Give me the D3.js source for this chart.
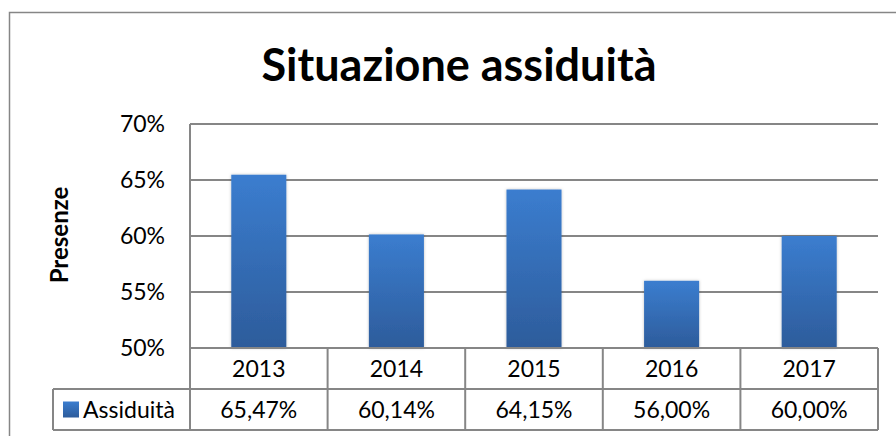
<!DOCTYPE html>
<html>
<head>
<meta charset="utf-8">
<script src="https://cdn.jsdelivr.net/npm/d3@7"></script>
<style>
  body { margin: 0; background: #fff; }
  svg { display: block; font-family: Lato, "Open Sans", sans-serif; }
</style>
</head>
<body>
<svg id="chart"></svg>
<script>
let years = ['2013', '2014', '2015', '2016', '2017']
let values = [0.6547, 0.6014, 0.6415, 0.56, 0.60]
let valueLabels = ['65,47%', '60,14%', '64,15%', '56,00%', '60,00%']
let yTicks = [0.5, 0.55, 0.6, 0.65, 0.7]
let yTickLabels = ['50%', '55%', '60%', '65%', '70%']
let seriesName = 'Assiduità'
let title = 'Situazione assiduità'
let axisTitle = 'Presenze'

const gridColor = '#868686'
const width = 896, height = 436

let svg = d3.select('#chart')
    .attr('width', width)
    .attr('height', height)

// plot area
let plotLeft = 190, plotRight = 878, plotTop = 124, plotBottom = 348
let rowH = 41

let scaleX = d3.scaleBand().domain(years).range([plotLeft, plotRight])
let scaleY = d3.scaleLinear().domain([0.5, 0.7]).range([plotBottom, plotTop])

let defs = svg.append('defs')
let grad = defs.append('linearGradient')
    .attr('id', 'barFill')
    .attr('x1', 0).attr('y1', 0).attr('x2', 0).attr('y2', 1)
grad.append('stop').attr('offset', '0%').attr('stop-color', '#3b7dcf')
grad.append('stop').attr('offset', '100%').attr('stop-color', '#2d5c9b')

let shadow = defs.append('filter').attr('id', 'shadow')
    .attr('x', '-20%').attr('y', '-5%').attr('width', '140%').attr('height', '110%')
shadow.append('feDropShadow')
    .attr('dx', 0).attr('dy', 0).attr('stdDeviation', 1.5)
    .attr('flood-color', '#000').attr('flood-opacity', 0.25)

// outer chart border (runs past the window on right and bottom)
svg.append('rect')
    .attr('x', 9.5).attr('y', 12.5)
    .attr('width', 1000).attr('height', 1000)
    .attr('fill', 'none')
    .attr('stroke', gridColor)
    .attr('stroke-width', 1.5)

// title
svg.append('text')
    .attr('x', 459).attr('y', 81)
    .attr('text-anchor', 'middle')
    .attr('font-size', 45)
    .attr('font-weight', 'bold')
    .attr('fill', '#000')
    .text(title)

// axis title
svg.append('text')
    .attr('transform', 'translate(68,235) rotate(-90)')
    .attr('text-anchor', 'middle')
    .attr('font-size', 24)
    .attr('font-weight', 'bold')
    .text(axisTitle)

// gridlines
svg.append('g').selectAll('line')
    .data(yTicks.slice(1))
    .join('line')
    .attr('x1', plotLeft).attr('x2', plotRight)
    .attr('y1', d => scaleY(d)).attr('y2', d => scaleY(d))
    .attr('stroke', gridColor)
    .attr('stroke-width', 2)

// y tick labels
svg.append('g').selectAll('text')
    .data(yTicks)
    .join('text')
    .attr('x', 165)
    .attr('y', d => scaleY(d))
    .attr('dy', '0.35em')
    .attr('text-anchor', 'end')
    .attr('font-size', 23)
    .attr('fill', '#000')
    .text((d, i) => yTickLabels[i])

// bars
let barW = scaleX.bandwidth() * 0.4
svg.append('g').selectAll('rect')
    .data(values)
    .join('rect')
    .attr('x', (d, i) => scaleX(years[i]) + (scaleX.bandwidth() - barW) / 2)
    .attr('y', d => scaleY(d))
    .attr('width', barW)
    .attr('height', d => plotBottom - scaleY(d))
    .attr('fill', 'url(#barFill)')
    .attr('filter', 'url(#shadow)')

// left axis line
svg.append('line')
    .attr('x1', plotLeft).attr('x2', plotLeft)
    .attr('y1', plotTop).attr('y2', plotBottom)
    .attr('stroke', gridColor).attr('stroke-width', 2)

// data table
let table = svg.append('g').attr('stroke', gridColor).attr('stroke-width', 2)
table.append('line').attr('x1', plotLeft).attr('x2', plotRight).attr('y1', plotBottom).attr('y2', plotBottom)
table.append('line').attr('x1', 53).attr('x2', plotRight).attr('y1', plotBottom + rowH).attr('y2', plotBottom + rowH)
table.append('line').attr('x1', 53).attr('x2', plotRight).attr('y1', plotBottom + 2 * rowH).attr('y2', plotBottom + 2 * rowH)
table.append('line').attr('x1', 53).attr('x2', 53).attr('y1', plotBottom + rowH).attr('y2', plotBottom + 2 * rowH)
table.selectAll('line.col')
    .data(years.map(y => scaleX(y)).concat([plotRight]))
    .join('line')
    .attr('class', 'col')
    .attr('x1', d => d).attr('x2', d => d)
    .attr('y1', plotBottom).attr('y2', plotBottom + 2 * rowH)

svg.append('g').selectAll('text')
    .data(years)
    .join('text')
    .attr('x', d => scaleX(d) + scaleX.bandwidth() / 2)
    .attr('y', plotBottom + rowH / 2)
    .attr('dy', '0.36em')
    .attr('text-anchor', 'middle')
    .attr('font-size', 23)
    .text(d => d)

svg.append('g').selectAll('text')
    .data(valueLabels)
    .join('text')
    .attr('x', (d, i) => scaleX(years[i]) + scaleX.bandwidth() / 2)
    .attr('y', plotBottom + rowH * 1.5)
    .attr('dy', '0.36em')
    .attr('text-anchor', 'middle')
    .attr('font-size', 23)
    .text(d => d)

// legend key in table
svg.append('rect')
    .attr('x', 63).attr('y', plotBottom + rowH * 1.5 - 8)
    .attr('width', 16).attr('height', 16)
    .attr('fill', 'url(#barFill)')
svg.append('text')
    .attr('x', 83).attr('y', plotBottom + rowH * 1.5)
    .attr('dy', '0.36em')
    .attr('font-size', 23)
    .text(seriesName)
</script>
</body>
</html>
